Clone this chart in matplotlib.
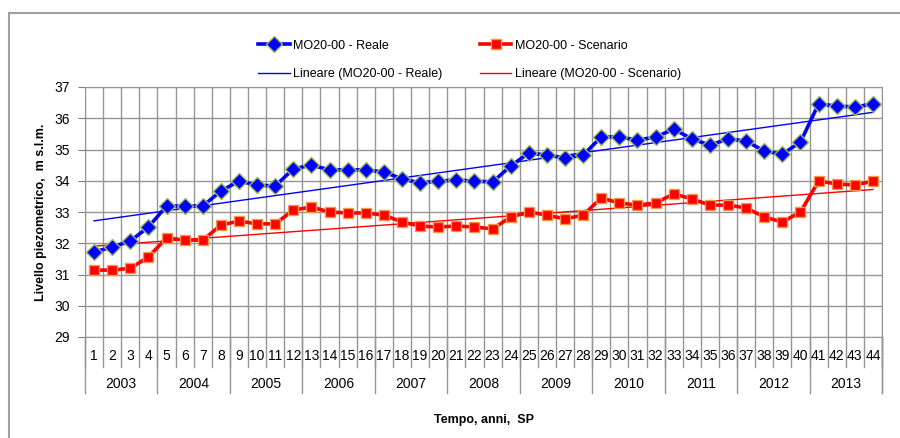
import matplotlib.pyplot as plt
from matplotlib.patches import Rectangle
import numpy as np

plt.rcParams['font.family'] = ['Liberation Sans', 'DejaVu Sans']

# time steps (SP) and years
sp = np.arange(1, 45)
years = ['2003', '2004', '2005', '2006', '2007', '2008', '2009', '2010', '2011', '2012', '2013']

reale = [31.72, 31.88, 32.07, 32.52, 33.19, 33.19, 33.19, 33.67, 33.99, 33.86, 33.83,
         34.38, 34.50, 34.35, 34.35, 34.35, 34.28, 34.06, 33.93, 33.99, 34.02, 33.99,
         33.96, 34.47, 34.89, 34.82, 34.73, 34.82, 35.40, 35.40, 35.30, 35.40, 35.65,
         35.34, 35.14, 35.34, 35.27, 34.95, 34.85, 35.24, 36.46, 36.39, 36.36, 36.46]
scenario = [31.14, 31.14, 31.20, 31.56, 32.17, 32.10, 32.10, 32.58, 32.71, 32.62, 32.62,
            33.06, 33.16, 33.00, 32.97, 32.97, 32.90, 32.68, 32.55, 32.52, 32.55, 32.52,
            32.46, 32.84, 33.00, 32.90, 32.78, 32.90, 33.45, 33.29, 33.22, 33.29, 33.58,
            33.42, 33.22, 33.22, 33.13, 32.84, 32.68, 33.00, 33.99, 33.90, 33.86, 33.99]

fig = plt.figure(figsize=(9, 4.38), dpi=100)
ax = fig.add_axes([85/900, 1 - 337/438, (882-85)/900, 250/438])

# linear trends
pr = np.polyfit(sp, reale, 1)
ps = np.polyfit(sp, scenario, 1)

l1, = ax.plot(sp, reale, color='#0000FF', lw=2.6, marker='D', ms=8.5,
              mfc='#0000FF', mec='#9BBB59', mew=1, label='MO20-00 - Reale', zorder=4)
l3, = ax.plot(sp, scenario, color='#FF0000', lw=2.6, marker='s', ms=7.5,
              mfc='#FF0000', mec='#F79646', mew=1, label='MO20-00 - Scenario', zorder=4)
l2, = ax.plot(sp, np.polyval(pr, sp), color='#0000FF', lw=1, label='Lineare (MO20-00 - Reale)', zorder=3)
l4, = ax.plot(sp, np.polyval(ps, sp), color='#FF0000', lw=1, label='Lineare (MO20-00 - Scenario)', zorder=3)

ax.set_xlim(0.5, 44.5)
ax.set_ylim(29, 37)
ax.set_yticks(np.arange(29, 38))
ax.set_xticks(np.arange(0.5, 45, 1))
ax.set_xticklabels([])
ax.tick_params(axis='x', length=0)
ax.tick_params(axis='y', length=5, color='#808080', labelsize=10, pad=6)
ax.grid(True, color='#959595', lw=1)
for s in ax.spines.values():
    s.set_color('#959595')

# category labels below the axis
tr = ax.get_xaxis_transform()
for i in sp:
    ax.text(i, -0.076, str(i), transform=tr, ha='center', va='center', fontsize=10)
for b in np.arange(0.5, 45, 1):
    ax.plot([b, b], [0, -0.12], transform=tr, color='#959595', lw=1, clip_on=False)
for k, y in enumerate(years):
    ax.text(4*k + 2.5, -0.19, y, transform=tr, ha='center', va='center', fontsize=10)
for b in list(np.arange(0.5, 45, 4)) + [44.5]:
    ax.plot([b, b], [0, -0.224], transform=tr, color='#959595', lw=1, clip_on=False)

ax.text(0.5, -0.33, 'Tempo, anni,  SP', transform=ax.transAxes, ha='center', va='center',
        fontsize=9, fontweight='bold')
ax.set_ylabel('Livello piezometrico,  m s.l.m.', fontsize=9, fontweight='bold', labelpad=5)

fig.legend(handles=[l1, l2, l3, l4], ncol=2, loc='upper center', bbox_to_anchor=(0.522, 0.935),
           frameon=False, fontsize=9, handlelength=2.5, columnspacing=3.0, labelspacing=1.3,
           handletextpad=0.3)

fig.patches.append(Rectangle((9/900, -0.05), 1.2, 1 - 13/438 + 0.05, transform=fig.transFigure,
                             fill=False, ec='#a0a0a0', lw=1.5))

fig.savefig('out.png', dpi=100)
